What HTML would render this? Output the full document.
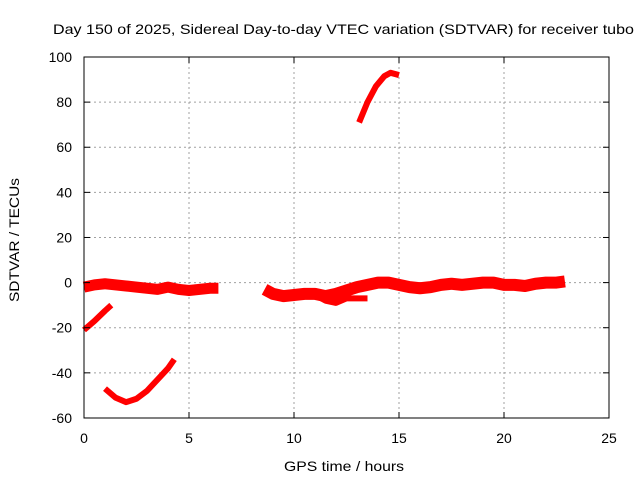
<!DOCTYPE html>
<html><head><meta charset="utf-8"><style>
body{margin:0;background:#fff}
svg{display:block;font-family:"Liberation Sans",sans-serif}
</style></head><body>
<svg id="chart" width="640" height="480">
<rect width="640" height="480" fill="#fff"/>
<text x="53" y="34" font-size="14" textLength="581" lengthAdjust="spacingAndGlyphs" fill="#000">Day 150 of 2025, Sidereal Day-to-day VTEC variation (SDTVAR) for receiver tubo</text>
<text x="284" y="471" font-size="14" textLength="120" lengthAdjust="spacingAndGlyphs">GPS time / hours</text>
<text transform="translate(19,302) rotate(-90)" font-size="14" textLength="124" lengthAdjust="spacingAndGlyphs">SDTVAR / TECUs</text>
<g id="grid"></g><g id="marks"></g><g id="axes"></g>
</svg>
<script>
const xTicks=[0,5,10,15,20,25];
const yTicks=[-60,-40,-20,0,20,40,60,80,100];
const segAx=[0,0.5,1,1.5,2,2.5,3,3.5,4,4.5,5,5.5,6,6.4];
const segAy=[-2,-1,-0.5,-1,-1.5,-2,-2.5,-3,-2,-3,-3.5,-3,-2.5,-2.5];
const segBx=[8.6,9,9.5,10,10.5,11,11.5,12,12.5,13,13.5,14,14.5,15,15.5,16,16.5,17,17.5,18,18.5,19,19.5,20,20.5,21,21.5,22,22.5,22.9];
const segBy=[-3,-5,-6,-5.5,-5,-5,-6,-5,-3.5,-2,-1,0,0,-1,-2,-2.5,-2,-1,-0.5,-1,-0.5,0,0,-1,-1,-1.5,-0.5,0,0,0.5];
const segB2x=[10.5,11,11.5,12,12.5,13,13.5];
const segB2y=[-5,-5.5,-8,-9,-7,-7,-7];
const segCx=[0,0.5,1,1.3];
const segCy=[-21,-17,-12.5,-10];
const segDx=[1,1.5,2,2.5,3,3.5,4,4.3];
const segDy=[-47,-51,-53,-51.5,-48,-43,-38,-34];
const segEx=[13.1,13.5,13.9,14.3,14.6,15];
const segEy=[71,80,87,91.5,93,92];
const X=v=>84+v*21, Y=v=>282.6-v*2.256;
const NS='http://www.w3.org/2000/svg';
const g=document.getElementById('grid'),m=document.getElementById('marks'),a=document.getElementById('axes');
function mk(p,t,at){const e=document.createElementNS(NS,t);for(const k in at)e.setAttribute(k,at[k]);p.appendChild(e);return e;}
xTicks.forEach(t=>{
 if(t>0&&t<25){const l=mk(g,'line',{x1:X(t),x2:X(t),y1:57,y2:418,stroke:'#a0a0a0','stroke-dasharray':'2,3'});
 
 }
 const tx=mk(a,'text',{x:X(t),y:443,'font-size':14,'text-anchor':'middle'});tx.textContent=t;
 
 
 mk(a,'line',{x1:X(t),x2:X(t),y1:418,y2:412,stroke:'#000'});mk(a,'line',{x1:X(t),x2:X(t),y1:57,y2:63,stroke:'#000'});
});
yTicks.forEach(t=>{
 if(t>-60&&t<100){const l=mk(g,'line',{x1:84,x2:609,y1:Y(t),y2:Y(t),stroke:'#a0a0a0','stroke-dasharray':'2,3'});
 
 }
 const tx=mk(a,'text',{x:72,y:Y(t)+5,'font-size':14,'text-anchor':'end'});tx.textContent=t;
 
 
 mk(a,'line',{x1:84,x2:90,y1:Y(t),y2:Y(t),stroke:'#000'});mk(a,'line',{x1:609,x2:603,y1:Y(t),y2:Y(t),stroke:'#000'});
});
const fr=mk(a,'rect',{x:84,y:57,width:525,height:361,fill:'none',stroke:'#000'});


function series(xs,ys,w,name){
 const p=mk(m,'polyline',{points:xs.map((x,i)=>X(x)+','+Y(ys[i])).join(' '),fill:'none',stroke:'#f00','stroke-width':w,'stroke-linejoin':'round'});
 
 
}
series(segAx,segAy,11,'sdtvar-segment-early');
series(segBx,segBy,12,'sdtvar-segment-late');
series(segB2x,segB2y,6,'sdtvar-segment-dip');
series(segCx,segCy,6,'sdtvar-segment-rise');
series(segDx,segDy,6,'sdtvar-segment-trough');
series(segEx,segEy,6,'sdtvar-segment-peak');
</script>
</body></html>
